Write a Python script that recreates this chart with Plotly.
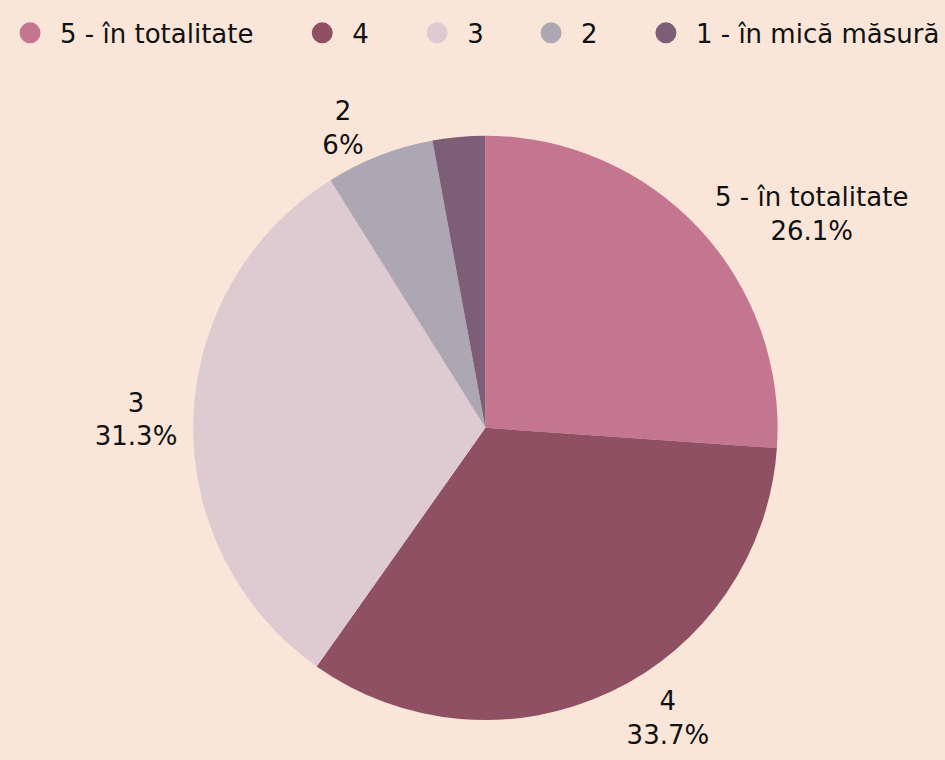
import plotly.graph_objects as go

categories = ["5 - în totalitate", "4", "3", "2", "1 - în mică măsură"]
values = [26.1, 33.7, 31.3, 6.0, 2.9]
colors = ["#C47590", "#8F5064", "#DDCBD1", "#ADA6B3", "#7E5D77"]
show_label = [True, True, True, True, False]

W, H = 945, 760
FONT = "DejaVu Sans"
BG = "#FAE6D9"

templates = ["%{label}<br>%{percent}" if s else "" for s in show_label]

fig = go.Figure()
cx, cy, r = 484, 429, 295
fig.add_trace(go.Pie(
    labels=categories, values=values, sort=False, direction="clockwise", rotation=0,
    marker=dict(colors=colors, line=dict(width=0)),
    texttemplate=templates, textposition="outside",
    textfont=dict(family=FONT, size=26, color="#111111"),
    showlegend=False, hoverinfo="label+percent",
    domain=dict(x=[(cx - r) / W, (cx + r) / W], y=[(H - cy - r) / H, (H - cy + r) / H]),
))

legend_centers = [24, 319, 435, 550, 666]
ITEMW = 50
legend_layouts = {}
for i, (name, col, xc) in enumerate(zip(categories, colors, legend_centers)):
    key = "legend" if i == 0 else f"legend{i+1}"
    fig.add_trace(go.Scatter(
        x=[None], y=[None], mode="markers", name=name,
        marker=dict(color=col, size=16, symbol="circle", line=dict(color=col, width=5)),
        legend=key, showlegend=True,
    ))
    legend_layouts[key] = dict(
        x=(xc - (ITEMW + 10) / 2) / W, xanchor="left",
        y=1 - 33 / H, yanchor="middle",
        orientation="h", itemwidth=ITEMW, bgcolor="rgba(0,0,0,0)", borderwidth=0,
        font=dict(family=FONT, size=26, color="#111111"),
    )

fig.update_layout(
    width=W, height=H,
    margin=dict(l=0, r=0, t=0, b=0),
    paper_bgcolor=BG, plot_bgcolor=BG,
    xaxis=dict(visible=False), yaxis=dict(visible=False),
    font=dict(family=FONT, size=26, color="#111111"),
    **legend_layouts,
)

fig.write_html(
    "out.html",
    config={"displayModeBar": False},
    post_script="document.body.style.margin='0';document.body.style.background='" + BG + "';",
)
